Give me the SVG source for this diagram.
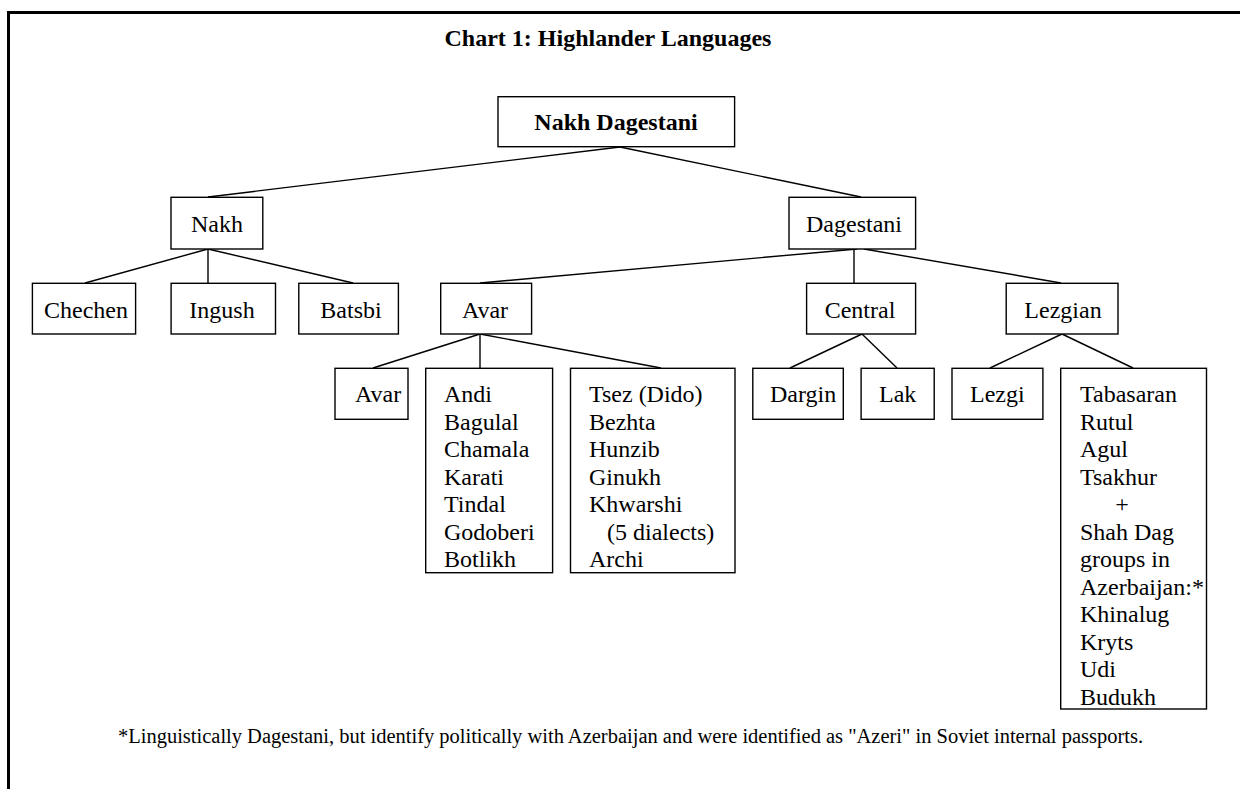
<svg xmlns="http://www.w3.org/2000/svg" width="1240" height="789" viewBox="0 0 1240 789">
<style>
.box{fill:#fff;stroke:#000;stroke-width:1.4}
.lbl{font-family:"Liberation Serif","Times New Roman",serif;font-size:24px;fill:#000}
.mid{text-anchor:middle}
.bold{font-weight:bold}
.conn line{stroke:#000;stroke-width:1.4}
.frame{stroke:#000;stroke-width:3;fill:none}
</style>
<rect width="1240" height="789" fill="#fff"/>
<path class="frame" d="M8.5,789 V12.5 H1240"/>
<text class="lbl bold mid" x="608" y="46">Chart 1: Highlander Languages</text>
<g class="conn">
<line x1="620" y1="147" x2="208" y2="197"/>
<line x1="620" y1="147" x2="861" y2="197"/>
<line x1="208" y1="249" x2="85" y2="283"/>
<line x1="208" y1="249" x2="208" y2="283"/>
<line x1="208" y1="249" x2="353" y2="283"/>
<line x1="857" y1="249" x2="480" y2="283"/>
<line x1="854" y1="249" x2="854" y2="283"/>
<line x1="864" y1="249" x2="1061" y2="283"/>
<line x1="480" y1="334" x2="373" y2="368"/>
<line x1="480" y1="334" x2="480" y2="368"/>
<line x1="480" y1="334" x2="661" y2="368"/>
<line x1="862" y1="334" x2="790" y2="368"/>
<line x1="862" y1="334" x2="897" y2="368"/>
<line x1="1062" y1="334" x2="990" y2="368"/>
<line x1="1062" y1="334" x2="1133" y2="368"/>
</g>
<g id="root"><rect class="box" x="498" y="96.7" width="236.6" height="50"/><text class="lbl bold mid" x="616" y="130">Nakh Dagestani</text></g>
<g id="nakh"><rect class="box" x="171" y="197.3" width="91.8" height="51.7"/><text class="lbl mid" x="217" y="231.5">Nakh</text></g>
<g id="dagestani"><rect class="box" x="789" y="197.3" width="126.6" height="51.7"/><text class="lbl mid" x="854" y="231.5">Dagestani</text></g>
<g id="chechen"><rect class="box" x="32.4" y="283.3" width="103.2" height="50.7"/><text class="lbl mid" x="86" y="317.5">Chechen</text></g>
<g id="ingush"><rect class="box" x="171.1" y="283.3" width="104.4" height="50.7"/><text class="lbl mid" x="222" y="317.5">Ingush</text></g>
<g id="batsbi"><rect class="box" x="298.8" y="283.3" width="99.6" height="50.7"/><text class="lbl mid" x="351" y="317.5">Batsbi</text></g>
<g id="avar"><rect class="box" x="440.7" y="283.3" width="90.9" height="50.7"/><text class="lbl mid" x="485" y="317.5">Avar</text></g>
<g id="central"><rect class="box" x="806.6" y="283.3" width="109" height="50.7"/><text class="lbl mid" x="860" y="317.5">Central</text></g>
<g id="lezgian"><rect class="box" x="1006.2" y="283.3" width="111.8" height="50.7"/><text class="lbl mid" x="1063" y="317.5">Lezgian</text></g>
<g id="avar-leaf"><rect class="box" x="335" y="368.3" width="73" height="51"/><text class="lbl" x="355" y="402">Avar</text></g>
<g id="andi"><rect class="box" x="425.7" y="368.3" width="126.9" height="204.4"/><text class="lbl" x="444" y="402">Andi</text><text class="lbl" x="444" y="429.5">Bagulal</text><text class="lbl" x="444" y="457">Chamala</text><text class="lbl" x="444" y="484.5">Karati</text><text class="lbl" x="444" y="512">Tindal</text><text class="lbl" x="444" y="539.5">Godoberi</text><text class="lbl" x="444" y="567">Botlikh</text></g>
<g id="tsez"><rect class="box" x="570.5" y="368.3" width="164.5" height="204.4"/><text class="lbl" x="589" y="402">Tsez (Dido)</text><text class="lbl" x="589" y="429.5">Bezhta</text><text class="lbl" x="589" y="457">Hunzib</text><text class="lbl" x="589" y="484.5">Ginukh</text><text class="lbl" x="589" y="512">Khwarshi</text><text class="lbl" x="607" y="539.5">(5 dialects)</text><text class="lbl" x="589" y="567">Archi</text></g>
<g id="dargin"><rect class="box" x="752.8" y="368.3" width="90.5" height="51"/><text class="lbl" x="770" y="402">Dargin</text></g>
<g id="lak"><rect class="box" x="861.1" y="368.3" width="73.1" height="51"/><text class="lbl" x="879" y="402">Lak</text></g>
<g id="lezgi"><rect class="box" x="952" y="368.3" width="90.9" height="51"/><text class="lbl" x="970" y="402">Lezgi</text></g>
<g id="tabasaran"><rect class="box" x="1060.7" y="368.3" width="145.8" height="340.7"/>
<text class="lbl" x="1080" y="402">Tabasaran</text><text class="lbl" x="1080" y="429.5">Rutul</text><text class="lbl" x="1080" y="457">Agul</text><text class="lbl" x="1080" y="484.5">Tsakhur</text><text class="lbl mid" x="1122" y="512">+</text><text class="lbl" x="1080" y="539.5">Shah Dag</text><text class="lbl" x="1080" y="567">groups in</text><text class="lbl" x="1080" y="594.5">Azerbaijan:*</text><text class="lbl" x="1080" y="622">Khinalug</text><text class="lbl" x="1080" y="649.5">Kryts</text><text class="lbl" x="1080" y="677">Udi</text><text class="lbl" x="1080" y="704.5">Budukh</text></g>
<text class="lbl" x="118" y="743" style="font-size:20.5px" textLength="1025" lengthAdjust="spacing">*Linguistically Dagestani, but identify politically with Azerbaijan and were identified as "Azeri" in Soviet internal passports.</text>
</svg>
